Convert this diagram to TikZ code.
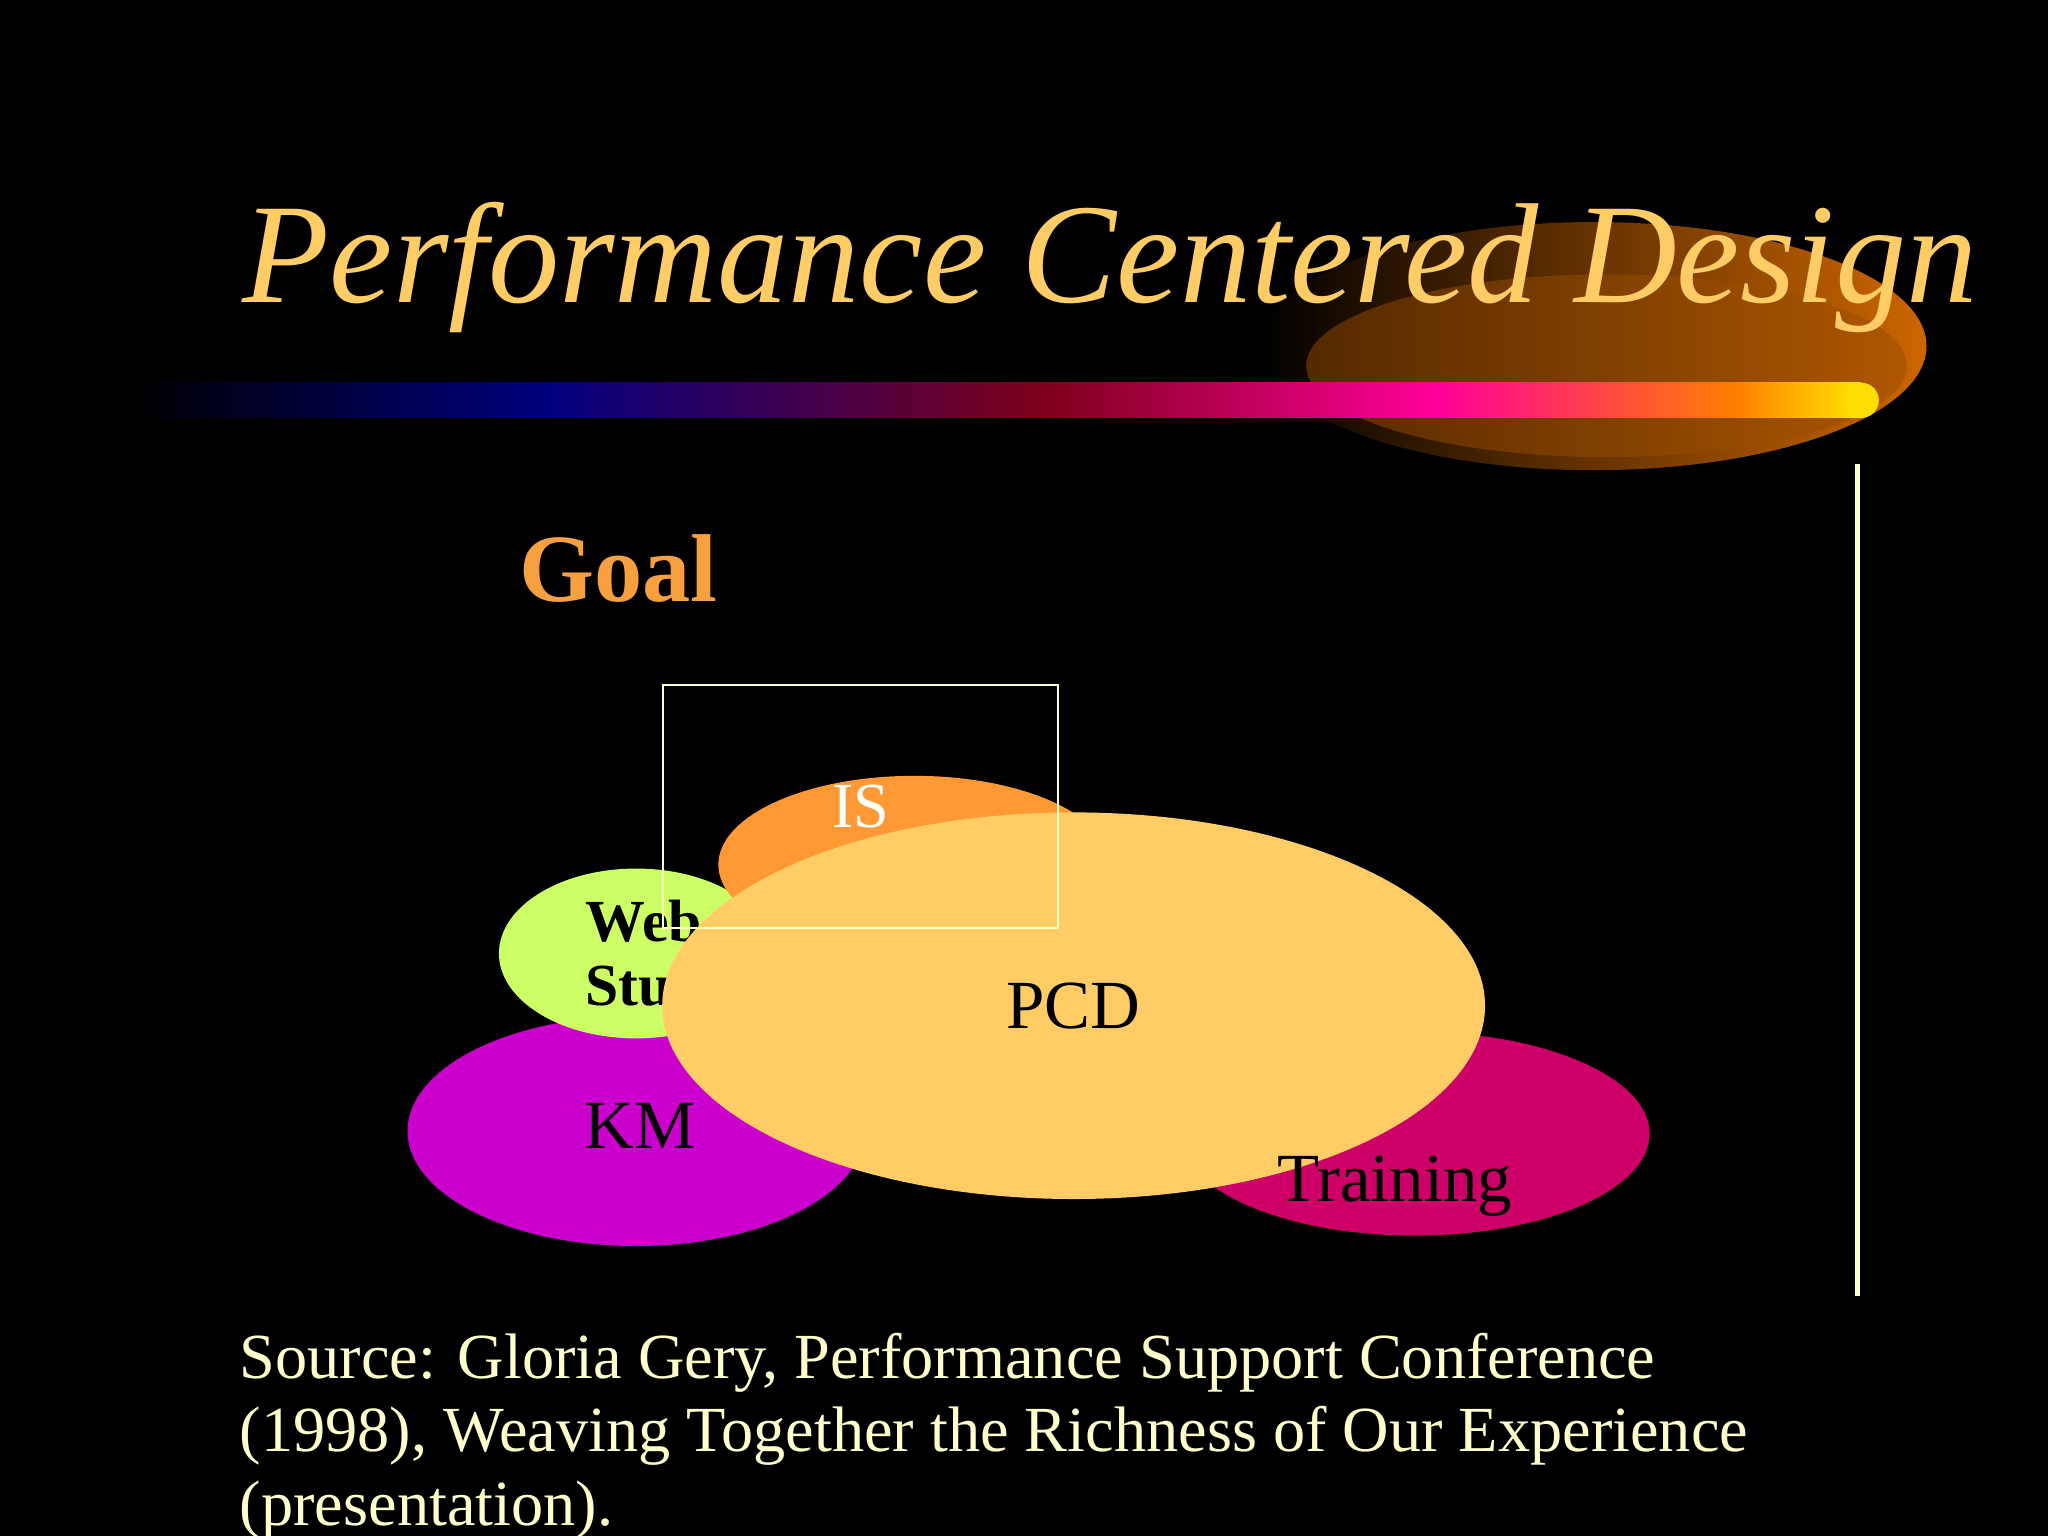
\documentclass[tikz,border=0pt]{standalone}
\usepackage{fontspec}
\setmainfont{Liberation Serif}
\begin{document}
\begin{tikzpicture}[x=0.01cm,y=-0.01cm,
  lbl/.style={font=\fontsize{13}{13}\selectfont, text=black}]
\definecolor{ttl}{HTML}{FFCC66}
\definecolor{cream}{HTML}{FFFFCC}
\definecolor{goalc}{HTML}{F7A040}
\definecolor{kmc}{HTML}{CC00CC}
\definecolor{trc}{HTML}{CC0066}
\definecolor{webc}{HTML}{CCFF66}
\definecolor{isc}{HTML}{FF9933}
\definecolor{pcdc}{HTML}{FFCC66}
\fill[black] (0,0) rectangle (1568,1176);
\useasboundingbox (0,0) rectangle (1568,1176);
% swoosh
\begin{scope}
\clip (965,170) rectangle (1480,360);
\shade[left color=black, right color=orange!80!black] (1220,265) ellipse (255 and 95);
\fill[orange!60!black, opacity=0.5] (1230,280) ellipse (230 and 70);
\end{scope}
% bar
\shade[left color=black, right color=blue!50!black] (100,293) rectangle (420,320);
\shade[left color=blue!50!black, right color=purple!70!red!60!black] (420,293) rectangle (800,320);
\shade[left color=purple!70!red!60!black, right color=magenta!60!red] (800,293) rectangle (1100,320);
\shade[left color=magenta!60!red, right color=orange] (1100,293) rectangle (1330,320);
\shade[left color=orange, right color=yellow!80!orange] (1330,293) rectangle (1425,320);
\fill[yellow!80!orange] (1425,306.5) circle (13.5);
\node[font=\itshape\fontsize{31}{31}\selectfont, text=ttl] (title) at (850,205) {Performance Centered Design};
\draw[cream, line width=1.2pt] (1422,355) -- (1422,992);
\node[font=\bfseries\fontsize{21}{21}\selectfont, text=goalc, anchor=west] (goal) at (385,435) {Goal};
% ellipses
\fill[kmc] (487,866) ellipse (175 and 88);
\fill[trc] (1083,868) ellipse (180 and 78);
\fill[webc] (487,730) ellipse (105 and 65);
\node[lbl, font=\bfseries\fontsize{13}{14}\selectfont, align=left, anchor=west] (web) at (436,730) {Web\\Stuff};
\fill[isc] (700,662) ellipse (150 and 68);
\fill[pcdc] (822,770) ellipse (315 and 148);
\node[draw=cream, text=white, font=\fontsize{14}{14}\selectfont, minimum width=86, minimum height=53, inner sep=0] (is) at (659,617.5) {IS};
\node[lbl, font=\fontsize{15}{15}\selectfont] (pcd) at (822,770) {PCD};
\node[lbl, font=\fontsize{15}{15}\selectfont] (km) at (490,862) {KM};
\node[lbl, font=\fontsize{15}{15}\selectfont] (tr) at (1068,908) {Training};
\node[text=cream, font=\fontsize{14}{16}\selectfont, align=left, anchor=north west, inner sep=0] (src) at (183,1020) {Source: Gloria Gery, Performance Support Conference\\(1998), Weaving Together the Richness of Our Experience\\(presentation).};
\end{tikzpicture}
\end{document}
